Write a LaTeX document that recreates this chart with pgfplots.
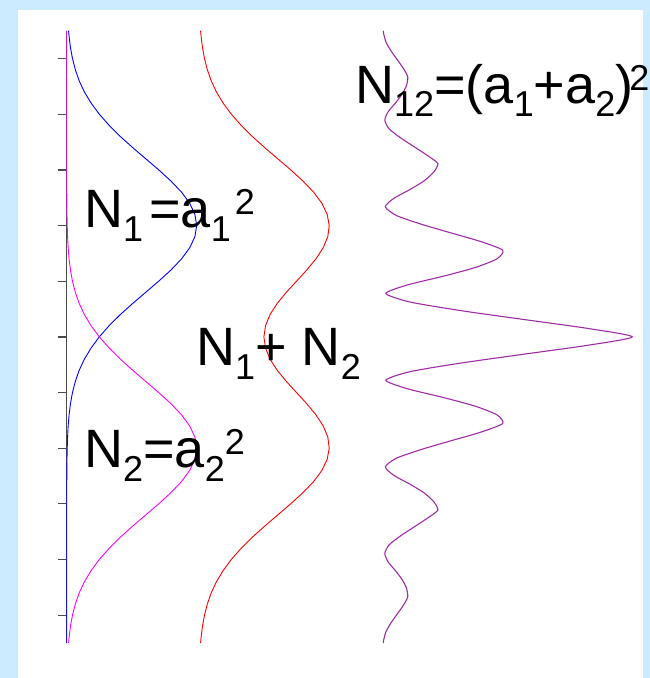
\documentclass[border=0pt]{standalone}
\usepackage{pgfplots}
\pgfplotsset{compat=1.18}
\usepackage{pgfplotstable}
\usepackage{fontspec}
\setmainfont{Liberation Sans}

\definecolor{panelblue}{RGB}{204,235,255}
\definecolor{curveblue}{RGB}{0,0,255}
\definecolor{curvepink}{RGB}{255,0,255}
\definecolor{curvered}{RGB}{255,0,0}
\definecolor{curvepurple}{RGB}{158,45,165}
\definecolor{axisgray}{RGB}{75,75,75}

\newcommand{\lbl}{\fontsize{54bp}{60bp}\selectfont}
\newcommand{\sub}[1]{\raisebox{-13.5bp}{\fontsize{36bp}{40bp}\selectfont #1}}
\newcommand{\sups}[1]{\raisebox{13bp}{\fontsize{36bp}{40bp}\selectfont #1}}

% intensity from slit 1 alone: N1 = a1^2 (pos = position on screen)
\pgfplotstableread{
pos n
5.5 1.88
5.4 2.38
5.2 3.76
5.0 5.77
4.8 8.63
4.6 12.5
4.4 17.7
4.2 24.4
4.0 32.6
3.8 42.4
3.6 53.6
3.4 66.0
3.2 79.0
3.0 92.0
2.8 104.2
2.6 114.8
2.4 123.0
2.2 128.2
2.0 130.0
1.8 128.2
1.6 123.0
1.4 114.8
1.2 104.2
1.0 92.0
0.8 79.0
0.6 66.0
0.4 53.6
0.2 42.4
0.0 32.6
-0.2 24.4
-0.4 17.7
-0.6 12.5
-0.8 8.63
-1.0 5.77
-1.2 3.76
-1.4 2.38
-1.6 1.47
-1.8 0.88
-2.0 0.51
-2.2 0.29
-2.4 0.16
-2.6 0.09
-2.8 0.04
-3.0 0.0
-5.5 0.0
}\slitone

% intensity from slit 2 alone: N2 = a2^2
\pgfplotstableread{
pos n
5.5 0.0
3.0 0.0
2.8 0.04
2.6 0.09
2.4 0.16
2.2 0.29
2.0 0.51
1.8 0.88
1.6 1.47
1.4 2.38
1.2 3.76
1.0 5.77
0.8 8.63
0.6 12.5
0.4 17.7
0.2 24.4
0.0 32.6
-0.2 42.4
-0.4 53.6
-0.6 66.0
-0.8 79.0
-1.0 92.0
-1.2 104.2
-1.4 114.8
-1.6 123.0
-1.8 128.2
-2.0 130.0
-2.2 128.2
-2.4 123.0
-2.6 114.8
-2.8 104.2
-3.0 92.0
-3.2 79.0
-3.4 66.0
-3.6 53.6
-3.8 42.4
-4.0 32.6
-4.2 24.4
-4.4 17.7
-4.6 12.5
-4.8 8.63
-5.0 5.77
-5.2 3.76
-5.4 2.38
-5.5 1.88
}\slittwo

% sum of the two single-slit patterns: N1 + N2
\pgfplotstableread{
pos n
5.5 1.88
5.4 2.38
5.2 3.76
5.0 5.77
4.8 8.63
4.6 12.5
4.4 17.7
4.2 24.4
4.0 32.6
3.8 42.4
3.6 53.6
3.4 66.0
3.2 79.0
3.0 92.0
2.8 104.2
2.6 114.9
2.4 123.2
2.2 128.5
2.0 130.5
1.8 129.1
1.6 124.5
1.4 117.2
1.2 108.0
1.0 97.8
0.8 87.6
0.6 78.5
0.4 71.3
0.2 66.8
0.0 65.2
-0.2 66.8
-0.4 71.3
-0.6 78.5
-0.8 87.6
-1.0 97.8
-1.2 108.0
-1.4 117.2
-1.6 124.5
-1.8 129.1
-2.0 130.5
-2.2 128.5
-2.4 123.2
-2.6 114.9
-2.8 104.2
-3.0 92.0
-3.2 79.0
-3.4 66.0
-3.6 53.6
-3.8 42.4
-4.0 32.6
-4.2 24.4
-4.4 17.7
-4.6 12.5
-4.8 8.63
-5.0 5.77
-5.2 3.76
-5.4 2.38
-5.5 1.88
}\slitsum

% both slits open: N12 = (a1 + a2)^2, interference fringes
\pgfplotstableread{
pos n
5.5 0.0
5.450 0.3
5.294 2.7
5.138 7.7
4.982 13.8
4.827 19.9
4.671 24.4
4.515 23.2
4.360 18.8
4.204 12.3
4.048 5.0
3.893 1.5
3.737 5.8
3.581 16.8
3.425 30.0
3.270 43.1
3.114 54.5
2.958 50.3
2.803 40.8
2.647 26.7
2.491 10.8
2.336 2.0
2.180 13.1
2.024 37.9
1.868 67.5
1.713 97.3
1.557 119.4
1.401 113.6
1.246 92.0
1.090 60.2
0.934 24.4
0.779 2.5
0.623 27.4
0.467 79.0
0.311 140.8
0.156 202.8
0.000 249.0
-0.156 202.8
-0.311 140.8
-0.467 79.0
-0.623 27.4
-0.779 2.5
-0.934 24.4
-1.090 60.2
-1.246 92.0
-1.401 113.6
-1.557 119.4
-1.713 97.3
-1.868 67.5
-2.024 37.9
-2.180 13.1
-2.336 2.0
-2.491 10.8
-2.647 26.7
-2.803 40.8
-2.958 50.3
-3.114 54.5
-3.270 43.1
-3.425 30.0
-3.581 16.8
-3.737 5.8
-3.893 1.5
-4.048 5.0
-4.204 12.3
-4.360 18.8
-4.515 23.2
-4.671 24.4
-4.827 19.9
-4.982 13.8
-5.138 7.7
-5.294 2.7
-5.450 0.3
-5.5 0.0
}\bothslits

\begin{document}
\begin{tikzpicture}
\useasboundingbox (0bp,0bp) rectangle (650bp,678bp);
\fill[panelblue] (0bp,0bp) rectangle (650bp,678bp);
\fill[white] (18bp,0bp) rectangle (643.3bp,668bp);
\begin{axis}[
  at={(66.7bp,35bp)}, anchor=south west,
  scale only axis, width=576.6bp, height=612.3bp,
  xmin=0, xmax=576.6, ymin=-5.5, ymax=5.5,
  axis x line=none, axis y line*=left,
  xtick=\empty, ytick={-5,...,5}, yticklabels={},
  tick align=outside, major tick length=9bp,
  axis line style={axisgray, line width=1.5bp},
  every tick/.style={axisgray, line width=1.3bp},
  clip=false,
]
\addplot[curveblue, line width=0.9bp] table[x=n, y=pos] {\slitone};
\addplot[curvepink, line width=0.9bp] table[x=n, y=pos] {\slittwo};
\addplot[curvered, line width=0.9bp] table[x expr=\thisrow{n}+132, y=pos] {\slitsum};
\addplot[curvepurple, line width=1.1bp, smooth, tension=0.4]
  table[x expr=\thisrow{n}+316.6, y=pos] {\bothslits};
\end{axis}
\node[anchor=base west, inner sep=0pt] at (84bp,450bp)
  {\lbl N\sub{1}\hspace{6bp}=a\sub{1}\hspace{4bp}\sups{2}};
\node[anchor=base west, inner sep=0pt] at (196bp,312bp)
  {\lbl N\sub{1}+ N\sub{2}};
\node[anchor=base west, inner sep=0pt] at (84bp,210bp)
  {\lbl N\sub{2}=a\sub{2}\sups{2}};
\node[anchor=base west, inner sep=0pt] at (355bp,574.7bp)
  {\lbl N\sub{12}=(a\sub{1}+a\sub{2})\hspace{-4bp}\sups{2}};
\end{tikzpicture}
\end{document}
